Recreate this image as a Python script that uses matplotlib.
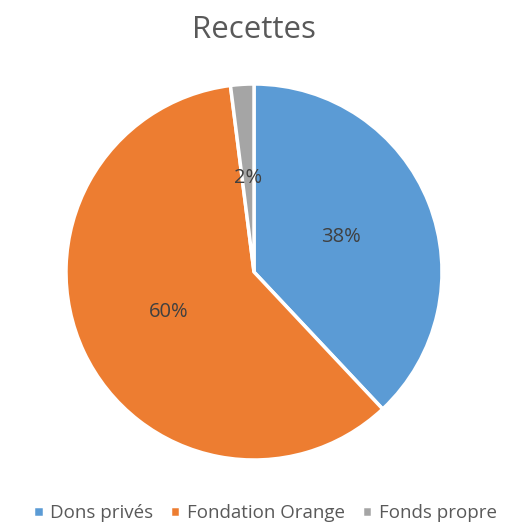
import matplotlib.pyplot as plt

plt.rcParams['font.family'] = ['Open Sans', 'DejaVu Sans']

labels = ['Dons privés', 'Fondation Orange', 'Fonds propre']
values = [38, 60, 2]
colors = ['#5B9BD5', '#ED7D31', '#A5A5A5']

W, H = 507, 527
fig = plt.figure(figsize=(W / 100, H / 100), dpi=100)

# pie centre at (254, 272) px, radius 188 px
cx, cy, r = 254, 272, 188
ax = fig.add_axes([(cx - r) / W, (H - cy - r) / H, 2 * r / W, 2 * r / H])

wedges, texts, autotexts = ax.pie(
    values, colors=colors, startangle=90, counterclock=False,
    autopct='%1.0f%%', pctdistance=0.5, radius=1,
    wedgeprops=dict(edgecolor='white', linewidth=2.5),
    textprops=dict(color='#404040', fontsize=14.5))
ax.set_xlim(-1, 1)
ax.set_ylim(-1, 1)
ax.set_aspect('equal')
ax.axis('off')

fig.text(254 / W, 1 - 30 / H, 'Recettes', ha='center', va='center',
         fontsize=22.5, color='#595959')

fig.legend(wedges, labels, loc='center', bbox_to_anchor=(265 / W, 1 - 513 / H),
           ncol=3, frameon=False, fontsize=13.5, labelcolor='#595959',
           handlelength=0.55, handleheight=0.55, handletextpad=0.35,
           columnspacing=0.9)

fig.savefig('out.png', dpi=100)
